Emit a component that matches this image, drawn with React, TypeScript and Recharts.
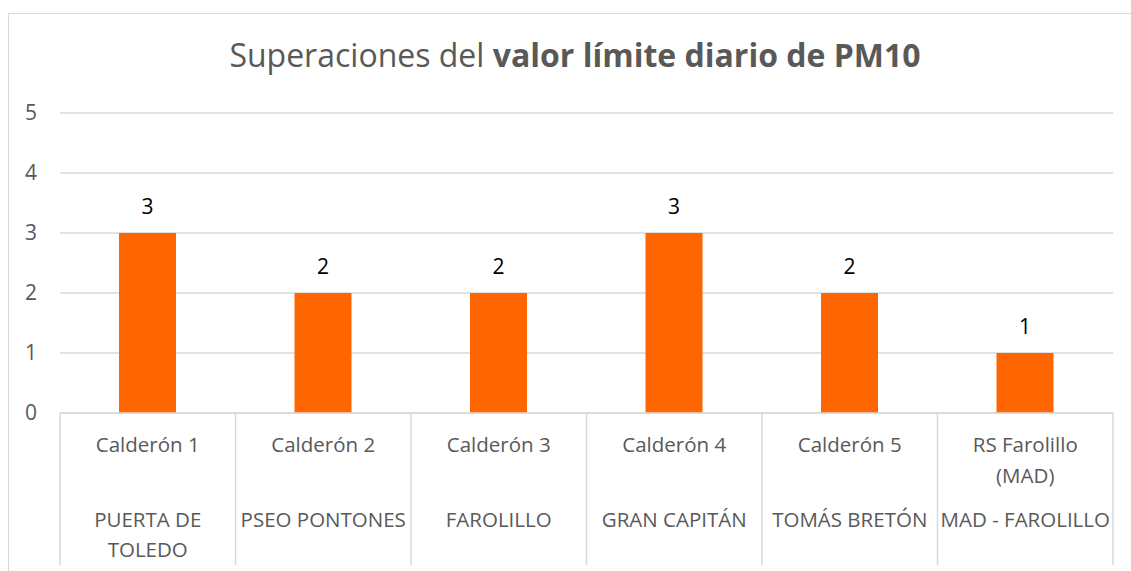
import React from 'react';
import { BarChart, Bar, XAxis, YAxis, CartesianGrid, LabelList } from 'recharts';

const stations = ['Calderón 1', 'Calderón 2', 'Calderón 3', 'Calderón 4', 'Calderón 5', 'RS Farolillo (MAD)'];
const stationLines = [['Calderón 1'], ['Calderón 2'], ['Calderón 3'], ['Calderón 4'], ['Calderón 5'], ['RS Farolillo', '(MAD)']];
const locationLines = [['PUERTA DE', 'TOLEDO'], ['PSEO PONTONES'], ['FAROLILLO'], ['GRAN CAPITÁN'], ['TOMÁS BRETÓN'], ['MAD - FAROLILLO']];
const exceedances = [3, 2, 2, 3, 2, 1];
const yTicks = [0, 1, 2, 3, 4, 5];

const data = stations.map((s, i) => ({ station: s, value: exceedances[i] }));

const FONT = '"Open Sans", "Noto Sans", sans-serif';
const TEXT = '#595959';
const GRID = '#d9d9d9';

const CategoryTick = (props: any) => {
  const { x, y, payload, index } = props;
  const half = payload && typeof payload.offset === 'number' && payload.offset > 0 ? payload.offset : 87.75;
  const i = typeof index === 'number' ? index : payload.index;
  const top = stationLines[i] || [String(payload.value)];
  const bottom = locationLines[i] || [];
  return (
    <g>
      <line x1={x - half} y1={y} x2={x - half} y2={y + 152} stroke={GRID} strokeWidth={1.5} />
      {i === stations.length - 1 && (
        <line x1={x + half} y1={y} x2={x + half} y2={y + 152} stroke={GRID} strokeWidth={1.5} />
      )}
      {top.map((t, k) => (
        <text key={'t' + k} x={x} y={y + 32 + k * 31} dy="0.36em" textAnchor="middle" fill={TEXT} fontSize={20.5} fontFamily={FONT}>
          {t}
        </text>
      ))}
      {bottom.map((t, k) => (
        <text key={'b' + k} x={x} y={y + 107 + k * 30} dy="0.36em" textAnchor="middle" fill={TEXT} fontSize={20.5} fontFamily={FONT}>
          {t}
        </text>
      ))}
    </g>
  );
};

export default function App() {
  return (
    <div style={{ position: 'absolute', left: 0, top: 0, width: 1131, height: 571, overflow: 'hidden', background: '#fff' }}>
      <div
        style={{
          position: 'absolute',
          left: 8,
          top: 13,
          width: 1300,
          height: 800,
          borderLeft: `1.5px solid ${GRID}`,
          borderTop: `1.5px solid ${GRID}`,
        }}
      />
      <div style={{ position: 'absolute', left: 0, top: 0 }}>
        <BarChart width={1131} height={571} data={data} margin={{ top: 113, right: 18, left: 0, bottom: 8 }} barSize={57}>
          <CartesianGrid vertical={false} stroke={GRID} strokeWidth={1.5} />
          <XAxis
            dataKey="station"
            interval={0}
            height={150}
            tickSize={0}
            tickMargin={0}
            tickLine={false}
            axisLine={{ stroke: GRID, strokeWidth: 1.5 }}
            tick={<CategoryTick />}
          />
          <YAxis
            width={60}
            domain={[0, 5]}
            ticks={yTicks}
            axisLine={false}
            tickLine={false}
            tickSize={0}
            tickMargin={23}
            tick={{ fill: TEXT, fontSize: 21, fontFamily: FONT }}
          />
          <Bar dataKey="value" fill="#FF6600" isAnimationActive={false}>
            <LabelList dataKey="value" position="top" offset={19} fill="#000" fontSize={21} fontFamily={FONT} />
          </Bar>
        </BarChart>
      </div>
      <svg width={1131} height={100} style={{ position: 'absolute', left: 0, top: 0, pointerEvents: 'none' }}>
        <text x={575} y={67} textAnchor="middle" fontSize={32} fill={TEXT} fontFamily={FONT}>
          <tspan>Superaciones del </tspan>
          <tspan fontWeight="bold">valor límite diario de PM10</tspan>
        </text>
      </svg>
    </div>
  );
}
